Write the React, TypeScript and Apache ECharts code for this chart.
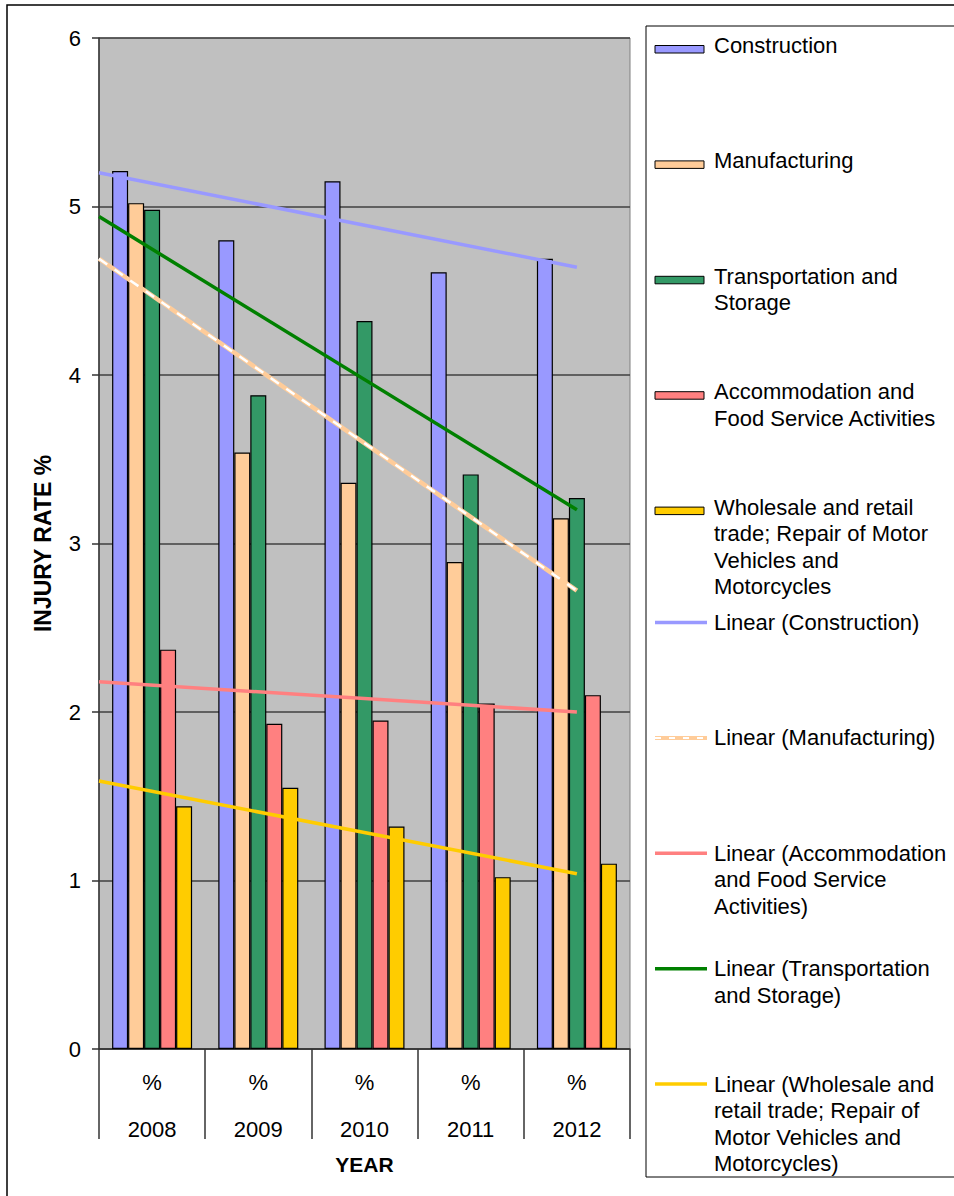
import React, { useEffect, useRef } from "react";
import * as echarts from "echarts";

const years = ["2008", "2009", "2010", "2011", "2012"];
const construction = [5.21, 4.8, 5.15, 4.61, 4.69];
const manufacturing = [5.02, 3.54, 3.36, 2.89, 3.15];
const transport = [4.98, 3.88, 4.32, 3.41, 3.27];
const accommodation = [2.37, 1.93, 1.95, 2.05, 2.1];
const wholesale = [1.44, 1.55, 1.32, 1.02, 1.1];

// trend line values at the start (x = 0.5) and end (x = 5)
const trendConstruction = [5.2, 4.64];
const trendManufacturing = [4.69, 2.72];
const trendAccommodation = [2.18, 2.0];
const trendTransport = [4.94, 3.2];
const trendWholesale = [1.59, 1.04];
const trendX = [0.5, 5];

const yTicks = [0, 1, 2, 3, 4, 5, 6];

const barNames = [
  "Construction",
  "Manufacturing",
  "Transportation and Storage",
  "Accommodation and Food Service Activities",
  "Wholesale and retail trade; Repair of Motor Vehicles and Motorcycles",
];
const legendLabels = [
  "Construction",
  "Manufacturing",
  "Transportation and\nStorage",
  "Accommodation and\nFood Service Activities",
  "Wholesale and retail\ntrade; Repair of Motor\nVehicles and\nMotorcycles",
  "Linear (Construction)",
  "Linear (Manufacturing)",
  "Linear (Accommodation\nand Food Service\nActivities)",
  "Linear (Transportation\nand Storage)",
  "Linear (Wholesale and\nretail trade; Repair of\nMotor Vehicles and\nMotorcycles)",
];

const C_CON = "#9999FF";
const C_MAN = "#FFCC99";
const C_TRA = "#339966";
const C_ACC = "#FF8080";
const C_WHO = "#FFCC00";
const C_TRA_LINE = "#008000";

const legendKinds = ["bar", "bar", "bar", "bar", "bar", "line", "dash", "line", "line", "line"];
const legendColors = [C_CON, C_MAN, C_TRA, C_ACC, C_WHO, C_CON, C_MAN, C_ACC, C_TRA_LINE, C_WHO];

const FONT = "'Liberation Sans', Arial, Helvetica, sans-serif";

export default function App() {
  const ref = useRef<HTMLDivElement>(null);
  useEffect(() => {
    document.body.style.margin = "0";
    const chart = echarts.init(ref.current!, null, { renderer: "svg" });

    const barValues = [construction, manufacturing, transport, accommodation, wholesale];
    const barColors = [C_CON, C_MAN, C_TRA, C_ACC, C_WHO];
    const barSeries = barValues.map((vals, i) => ({
      name: barNames[i],
      type: "bar",
      data: vals,
      barWidth: 16,
      barGap: "0%",
      itemStyle: { color: barColors[i], borderColor: "#000", borderWidth: 1.2 },
      z: 2,
    }));

    const mkTrend = (name: string, vals: number[], color: string, width: number, extra: any = {}) => ({
      name,
      type: "line",
      xAxisIndex: 1,
      yAxisIndex: 0,
      data: trendX.map((x, k) => [x, vals[k]]),
      symbol: "none",
      silent: true,
      lineStyle: { color, width, ...extra },
      z: 5,
    });

    const trendSeries = [
      mkTrend("Linear (Construction)", trendConstruction, C_CON, 3.5),
      mkTrend("Linear (Manufacturing)", trendManufacturing, C_MAN, 4.5),
      mkTrend("Linear (Manufacturing) pattern", trendManufacturing, "#FFFFFF", 2.5, { type: [10, 9] }),
      mkTrend("Linear (Accommodation and Food Service Activities)", trendAccommodation, C_ACC, 3.5),
      mkTrend("Linear (Transportation and Storage)", trendTransport, C_TRA_LINE, 3.5),
      mkTrend("Linear (Wholesale and retail trade; Repair of Motor Vehicles and Motorcycles)", trendWholesale, C_WHO, 3.5),
    ];

    const legendEls: any[] = [];
    legendLabels.forEach((label, i) => {
      const c = 45.5 + i * 115.4;
      const kind = legendKinds[i];
      if (kind === "bar") {
        legendEls.push({
          type: "rect",
          shape: { x: 655, y: c, width: 49, height: 7.5 },
          style: { fill: legendColors[i], stroke: "#000", lineWidth: 1 },
        });
      } else {
        legendEls.push({
          type: "line",
          shape: { x1: 655, y1: c, x2: 707, y2: c },
          style: { stroke: legendColors[i], lineWidth: kind === "dash" ? 4 : 3.5 },
        });
        if (kind === "dash") {
          legendEls.push({
            type: "line",
            shape: { x1: 655, y1: c, x2: 707, y2: c },
            style: { stroke: "#FFFFFF", lineWidth: 2, lineDash: [6, 8] },
          });
        }
      }
      legendEls.push({
        type: "text",
        x: 714,
        y: c - 13.3,
        style: {
          text: label,
          font: `22px ${FONT}`,
          fill: "#000",
          lineHeight: 26.6,
          verticalAlign: "top",
          align: "left",
        },
      });
    });

    const option: any = {
      animation: false,
      backgroundColor: "#FFFFFF",
      textStyle: { fontFamily: FONT },
      grid: {
        left: 99,
        top: 38,
        right: 324,
        bottom: 147,
        show: true,
        backgroundColor: "#C0C0C0",
        borderColor: "#808080",
        borderWidth: 1,
        containLabel: false,
      },
      xAxis: [
        {
          type: "category",
          data: years,
          boundaryGap: true,
          name: "YEAR",
          nameLocation: "middle",
          nameGap: 105,
          nameMoveOverlap: false,
          nameTextStyle: { fontSize: 21, fontWeight: "bold", color: "#000", fontFamily: FONT },
          axisLine: { show: true, lineStyle: { color: "#333", width: 1.5 } },
          axisTick: { show: true, length: 90, interval: 0, lineStyle: { color: "#333", width: 1.5 } },
          axisLabel: {
            interval: 0,
            formatter: (v: string) => "%\n" + v,
            fontSize: 22,
            lineHeight: 47,
            margin: 10,
            color: "#000",
            fontFamily: FONT,
          },
          splitLine: { show: false },
        },
        {
          type: "value",
          min: 0.5,
          max: 5.5,
          show: false,
          gridIndex: 0,
        },
      ],
      yAxis: {
        type: "value",
        min: yTicks[0],
        max: yTicks[yTicks.length - 1],
        interval: 1,
        name: "INJURY RATE %",
        nameLocation: "middle",
        nameGap: 45,
        nameMoveOverlap: false,
        nameTextStyle: { fontSize: 23, fontWeight: "bold", color: "#000", fontFamily: FONT },
        axisLine: { show: true, lineStyle: { color: "#333", width: 1.5 } },
        axisTick: { show: true, inside: false, length: 7, lineStyle: { color: "#333", width: 1.5 } },
        axisLabel: { fontSize: 22, color: "#000", margin: 18, fontFamily: FONT },
        splitLine: { show: true, lineStyle: { color: "#404040", width: 1.5 } },
      },
      series: [...barSeries, ...trendSeries],
      graphic: [
        {
          type: "rect",
          shape: { x: 7, y: 5, width: 1200, height: 1400 },
          style: { fill: "none", stroke: "#000", lineWidth: 1.5 },
          z: -10,
        },
        {
          type: "rect",
          shape: { x: 646, y: 26, width: 400, height: 1151 },
          style: { fill: "#FFFFFF", stroke: "#000", lineWidth: 1 },
        },
        ...legendEls,
      ],
    };

    chart.setOption(option);
    return () => chart.dispose();
  }, []);
  return <div ref={ref} style={{ width: 954, height: 1196 }} />;
}
